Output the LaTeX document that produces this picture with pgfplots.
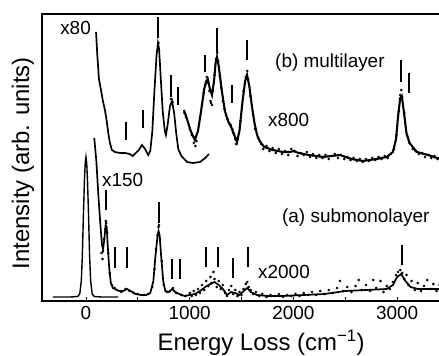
\documentclass[border=0pt]{standalone}
\usepackage{pgfplots}
\pgfplotsset{compat=1.18}
\usepackage{fontspec}
\setmainfont{Liberation Sans}
\begin{document}
\begin{tikzpicture}
\begin{axis}[
 at={(42bp,55bp)}, anchor=south west,
 scale only axis, width=417.3bp, height=287bp,
 xmin=-424, xmax=3600, ymin=0, ymax=287,
 xtick={0,1000,2000,3000}, minor xtick={500,1500,2500,3500},
 xtick pos=bottom, tick align=inside, ytick=\empty,
 major tick length=4bp, minor tick length=4bp,
 tick style={black, line width=0.8pt},
 axis line style={line width=1.3pt},
 clip=false,
 /pgf/number format/assume math mode=true,
 /pgf/number format/1000 sep={},
 xticklabel style={font=\fontsize{19}{19}\selectfont, yshift=-2bp},
 unbounded coords=jump,
]
% elastic peak
\addplot[black, line width=1.4pt] coordinates {
(-320,4) (-150,4) (-80,4.5) (-60,7) (-45,20) (-35,45) (-25,85) (-15,120) (-7,138) (0,144) (7,138) (15,120) (25,85) (35,45) (45,20) (60,7) (80,4.5) (150,4) (310,4)};
% submonolayer line
\addplot[black, line width=1.7pt] coordinates {
(80,163) (100,140) (120,105) (140,75) (155,56) (165,52) (175,60) (190,76) (200,74) (210,55) (225,32) (240,18) (260,13) (280,12) (320,10) (360,10) (395,12) (430,10) (480,7) (530,6) (580,6) (620,8) (650,20) (670,45) (690,65) (700,70) (710,66) (725,45) (745,20) (765,10) (800,9) (830,12) (860,9) (900,7) (950,5) (1000,6) (1050,7) (1100,10) (1150,14) (1200,17) (1240,19) (1280,16) (1320,12) (1360,6) (1400,9) (1440,8) (1480,6) (1520,10) (1555,13) (1590,9) (1650,6) (1750,5) (1900,5) (2100,6) (2300,7) (2500,10) (2700,11) (2900,12) (2960,16) (3000,24) (3040,27) (3080,20) (3130,14) (3200,12) (3300,12) (3400,12) (3600,12)};
% submonolayer dots
\addplot[only marks, mark=*, mark size=1.1pt, black] coordinates {
(150,48) (160,42) (165,50) (175,62) (185,72) (190,80) (195,78) (205,68) (215,48) (230,28) (250,16) (275,13) (300,11) (340,9) (380,12) (420,10) (460,8) (500,7) (560,6) (600,7) (640,14) (660,32) (675,52) (690,66) (700,74) (705,76) (715,62) (730,40) (750,16) (780,9) (810,10) (840,13) (870,8) (920,6) (960,5) (1000,8) (1020,5) (1040,10) (1060,6) (1080,12) (1100,8) (1120,16) (1140,11) (1160,20) (1180,15) (1200,24) (1210,18) (1230,29) (1240,22) (1260,14) (1280,20) (1300,12) (1320,16) (1340,8) (1360,5) (1380,11) (1400,15) (1420,7) (1440,11) (1460,5) (1480,9) (1500,6) (1520,12) (1540,17) (1555,19) (1570,14) (1590,11) (1610,7) (1640,9) (1670,5) (1700,7) (1740,4) (1780,6) (1820,5) (1860,7) (1900,4) (1940,6) (1980,5) (2020,7) (2060,5) (2100,8) (2140,6) (2180,9) (2220,6) (2260,10) (2300,7) (2340,11) (2380,8) (2420,13) (2450,20) (2480,10) (2520,14) (2560,9) (2600,15) (2630,21) (2660,11) (2700,16) (2740,10) (2770,21) (2800,13) (2840,20) (2870,9) (2900,15) (2930,12) (2960,19) (2990,26) (3010,29) (3030,31) (3050,28) (3070,22) (3090,26) (3110,16) (3140,20) (3170,11) (3200,18) (3230,10) (3260,15) (3290,21) (3320,12) (3350,17) (3380,10) (3410,16) (3440,13)};
% multilayer x80
\addplot[black, line width=1.7pt] coordinates {
(97,269) (110,245) (125,222) (145,211) (165,199) (183,191) (200,180) (215,168) (231,158) (250,151) (280,149) (330,148) (380,148) (420,147) (450,145) (480,148) (510,151) (540,156) (570,152) (600,146) (620,150) (640,170) (660,210) (680,245) (694,258) (705,252) (720,225) (740,190) (760,170) (771,166) (790,178) (810,195) (830,200) (850,188) (870,168) (890,152) (920,145) (975,139) (1030,138) (1100,139) (1150,143) (1185,147)};
% multilayer x800
\addplot[black, line width=2.1pt] coordinates {
(945,191) (980,180) (1010,170) (1050,161) (1080,170) (1110,190) (1140,212) (1160,220) (1175,222) (1195,212) (1215,206) (1235,220) (1250,238) (1263,244) (1280,235) (1310,210) (1340,190) (1370,180) (1400,174) (1430,166) (1456,159) (1480,170) (1510,200) (1535,220) (1553,226) (1575,215) (1600,195) (1625,178) (1650,166) (1680,159) (1720,154) (1800,151) (1900,149) (1970,149) (2000,150) (2050,148) (2150,146) (2285,144) (2450,146) (2560,142) (2670,140) (2800,142) (2900,144) (2960,149) (2990,162) (3010,185) (3030,203) (3045,205) (3065,190) (3090,168) (3120,158) (3190,149) (3300,146) (3385,143) (3600,142)};
% multilayer dots
\addplot[only marks, mark=*, mark size=1.1pt, black] coordinates {
(700,258) (820,202) (835,199)
(950,188) (965,184) (1000,172) (1020,166) (1040,158) (1055,155) (1065,160) (1090,176) (1120,196) (1135,208) (1150,216) (1165,224) (1180,218) (1190,210) (1200,200) (1205,198) (1215,196) (1225,210) (1240,226) (1255,242) (1265,248) (1275,240) (1290,225) (1305,213) (1320,200) (1335,192) (1350,186) (1365,182) (1380,178) (1395,176) (1410,172) (1420,168) (1440,162) (1450,157) (1465,162) (1490,180) (1520,210) (1540,224) (1555,230) (1565,222) (1585,205) (1610,186) (1630,172) (1660,163) (1690,157) (1710,152) (1740,155) (1770,150) (1800,153) (1830,148) (1860,152) (1890,147) (1920,150) (1950,146) (1980,152) (2010,150) (2040,145) (2070,148) (2100,146) (2130,149) (2160,144) (2190,147) (2220,143) (2250,146) (2280,143) (2310,146) (2340,142) (2370,145) (2400,147) (2430,143) (2460,146) (2490,142) (2520,144) (2550,141) (2580,143) (2610,140) (2640,142) (2670,139) (2700,142) (2730,140) (2760,143) (2790,141) (2820,144) (2850,142) (2880,145) (2910,143) (2940,147) (2970,152) (2995,166) (3015,190) (3030,206) (3040,211) (3050,204) (3070,188) (3095,166) (3120,158) (3150,152) (3180,150) (3210,147) (3240,148) (3270,144) (3300,146) (3330,143) (3360,145) (3390,142) (3420,144)};
% peak markers
\addplot[black, line width=1.9pt] coordinates {
(386,161) (386,179) (386,nan)
(550,173) (550,191) (550,nan)
(694,263) (694,284) (694,nan)
(820,204) (820,226) (820,nan)
(887,196) (887,214) (887,nan)
(1150,229) (1150,246) (1150,nan)
(1263,249) (1263,273) (1263,nan)
(1408,198) (1408,216) (1408,nan)
(1553,241) (1553,261) (1553,nan)
(3040,219) (3040,241) (3040,nan)
(3115,208) (3115,228) (3115,nan)
(193,91) (193,111) (193,nan)
(280,33) (280,54) (280,nan)
(395,33) (395,54) (395,nan)
(704,78) (704,99) (704,nan)
(830,22) (830,42) (830,nan)
(907,22) (907,42) (907,nan)
(1157,34) (1157,54) (1157,nan)
(1273,34) (1273,54) (1273,nan)
(1418,23) (1418,43) (1418,nan)
(1562,34) (1562,54) (1562,nan)
(3047,36) (3047,56)};
\node[anchor=east, font=\fontsize{19}{19}\selectfont, inner sep=1pt] at (axis cs:58,273) {x80};
\node[anchor=west, font=\fontsize{19}{19}\selectfont, inner sep=0pt] at (axis cs:154,121) {x150};
\node[anchor=west, font=\fontsize{19}{19}\selectfont, inner sep=0pt] at (axis cs:1755,181) {x800};
\node[anchor=west, font=\fontsize{19}{19}\selectfont, inner sep=0pt] at (axis cs:1823,238) {(b) multilayer};
\node[anchor=west, font=\fontsize{19}{19}\selectfont, inner sep=0pt] at (axis cs:1890,83) {(a) submonolayer};
\node[anchor=west, font=\fontsize{19}{19}\selectfont, inner sep=0pt] at (axis cs:1659,29) {x2000};
\node[rotate=90, font=\fontsize{24}{24}\selectfont] at (axis description cs:-0.0455,0.48) {Intensity (arb. units)};
\node[font=\fontsize{24}{24}\selectfont] at (axis description cs:0.525,-0.146) {Energy Loss (cm\textsuperscript{−1})};
\end{axis}
\pgfresetboundingbox
\useasboundingbox (0,0) rectangle (439bp,356bp);
\end{tikzpicture}
\end{document}
